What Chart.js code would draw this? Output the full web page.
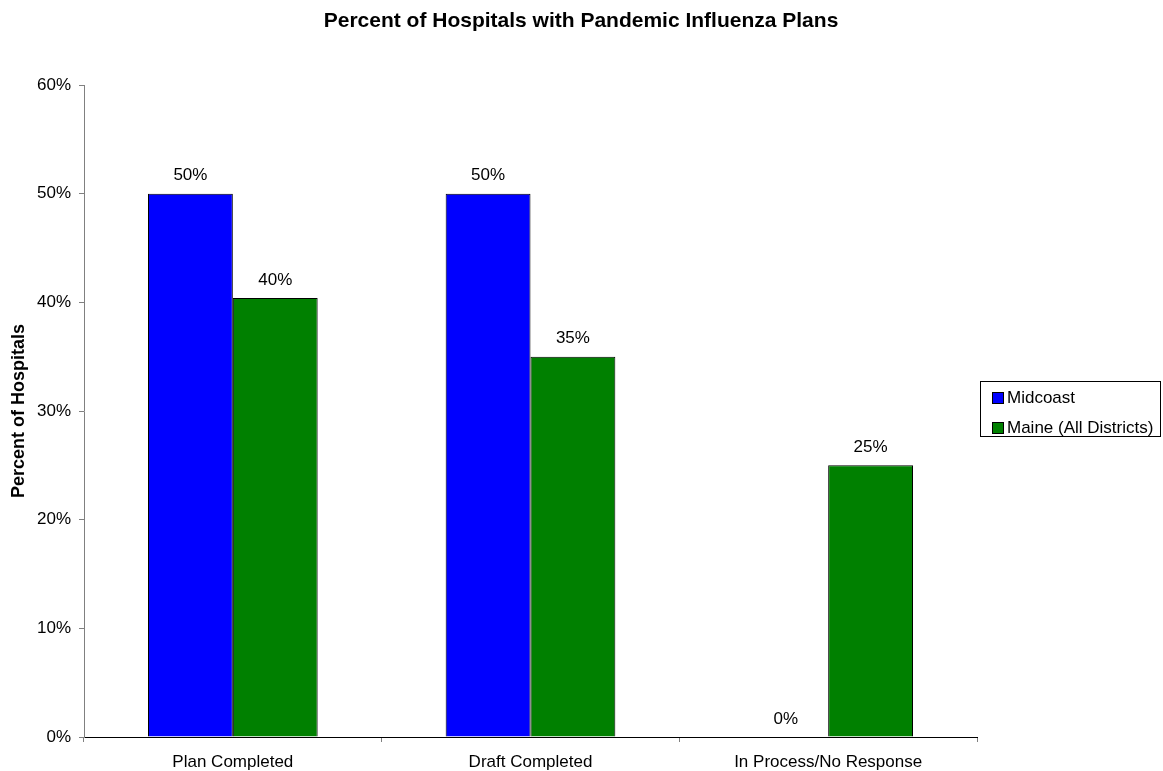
<!DOCTYPE html>
<html>
<head>
<meta charset="utf-8">
<script src="https://cdn.jsdelivr.net/npm/chart.js@4"></script>
<style>
  html, body { margin: 0; padding: 0; background: #fff; }
  #wrap { position: relative; width: 1163px; height: 771px; }
  #legend {
    position: absolute; left: 980px; top: 381px; width: 181px; height: 56px;
    box-sizing: border-box; border: 1px solid #000; background: #fff;
    font: 17px "Liberation Sans", Arial, sans-serif; color: #000;
  }
  .item { position: absolute; left: 11px; height: 20px; line-height: 20px; white-space: nowrap; }
  .sw { display: inline-block; box-sizing: border-box; width: 12px; height: 12px; border: 1px solid #000; margin-right: 3px; vertical-align: -1px; }
</style>
</head>
<body>
<div id="wrap">
  <canvas id="chart" width="1163" height="771"></canvas>
  <div id="legend"></div>
</div>
<script>
// ── DATA ──────────────────────────────────────────
const categories = ['Plan Completed', 'Draft Completed', 'In Process/No Response'];
const midcoast   = [50, 50, 0];
const maineAll   = [40.4, 35, 25];
const seriesNames = ['Midcoast', 'Maine (All Districts)'];
const yTicks = [0, 10, 20, 30, 40, 50, 60];

const FONT = '"Liberation Sans", Arial, sans-serif';
const colors = ['#0000ff', '#008000'];

// ── LEGEND ────────────────────────────────────────
document.getElementById('legend').innerHTML = seriesNames.map((n, i) =>
  `<div class="item" style="top:${6 + i * 30}px"><span class="sw" style="background:${colors[i]}"></span>${n}</div>`
).join('');

// ── PLUGINS ───────────────────────────────────────
const titlePlugin = {
  id: 'titleText',
  afterDraw(chart) {
    const ctx = chart.ctx;
    ctx.save();
    ctx.font = 'bold 21px ' + FONT;
    ctx.fillStyle = '#000';
    ctx.textAlign = 'center';
    ctx.textBaseline = 'middle';
    ctx.fillText('Percent of Hospitals with Pandemic Influenza Plans', 581, 21);
    ctx.restore();
  }
};

const valueLabels = {
  id: 'valueLabels',
  afterDatasetsDraw(chart) {
    const ctx = chart.ctx;
    ctx.save();
    ctx.font = '17px ' + FONT;
    ctx.fillStyle = '#000';
    ctx.textAlign = 'center';
    ctx.textBaseline = 'middle';
    chart.data.datasets.forEach((ds, di) => {
      chart.getDatasetMeta(di).data.forEach((bar, i) => {
        ctx.fillText(Math.round(ds.data[i]) + '%', bar.x, bar.y - 18);
      });
    });
    ctx.restore();
  }
};

// ── CHART ─────────────────────────────────────────
new Chart(document.getElementById('chart'), {
  type: 'bar',
  data: {
    labels: categories,
    datasets: [
      { label: seriesNames[0], data: midcoast, backgroundColor: colors[0], borderColor: '#000', borderWidth: 1 },
      { label: seriesNames[1], data: maineAll, backgroundColor: colors[1], borderColor: '#000', borderWidth: 1 }
    ]
  },
  options: {
    responsive: false,
    animation: false,
    layout: { padding: { top: 85, right: 186, left: 8, bottom: 0 } },
    datasets: { bar: { categoryPercentage: 0.57, barPercentage: 1 } },
    plugins: { legend: { display: false }, tooltip: { enabled: false } },
    scales: {
      x: {
        grid: { offset: true, drawOnChartArea: false, tickLength: 5, color: '#808080' },
        border: { color: '#000' },
        ticks: { color: '#000', font: { family: FONT, size: 17 }, padding: 10 },
        afterFit: s => { s.height = 34; }
      },
      y: {
        min: 0, max: 60,
        afterBuildTicks: s => { s.ticks = yTicks.map(v => ({ value: v })); },
        grid: { drawOnChartArea: false, tickLength: 5, color: '#808080' },
        border: { color: '#808080' },
        ticks: { color: '#000', font: { family: FONT, size: 17 }, padding: 8, callback: v => v + '%' },
        title: { display: true, text: 'Percent of Hospitals', color: '#000', font: { family: FONT, size: 18, weight: 'bold' }, padding: 0 },
        afterFit: s => { s.width = 76; }
      }
    }
  },
  plugins: [titlePlugin, valueLabels]
});
</script>
</body>
</html>
